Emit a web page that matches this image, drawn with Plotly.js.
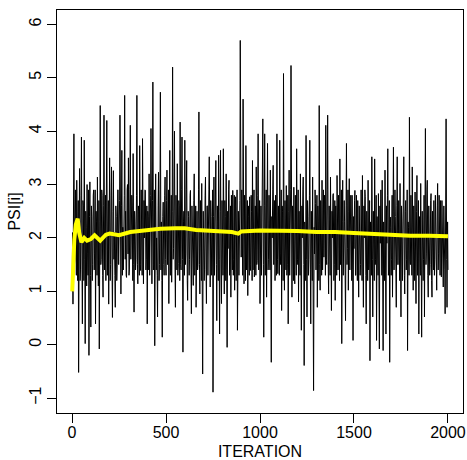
<!DOCTYPE html>
<html>
<head>
<meta charset="utf-8">
<script src="https://cdn.plot.ly/plotly-3.0.1.min.js"></script>
<style>html,body{margin:0;padding:0;background:#fff;}#chart{width:467px;height:460px;}</style>
</head>
<body>
<div id="chart"></div>
<script>
// PSI[i] trace: values at iterations 0,5,10,...,2000
const psiTrace = [
1.0,0.76,3.95,1.6,2.5,3.08,1.2,-0.52,3.3,1.4,
3.89,0.39,2.6,3.83,0.02,2.2,3.0,1.3,-0.2,3.05,
0.33,2.4,1.5,2.9,1.7,0.39,2.3,3.14,1.1,-0.08,
4.48,1.6,2.8,0.89,4.3,1.9,1.2,4.2,2.0,0.76,
3.5,1.5,3.33,0.51,3.26,2.1,0.7,2.4,1.5,2.9,
1.8,4.3,0.95,3.64,2.2,1.83,4.67,2.5,1.26,3.0,
3.5,1.4,4.11,1.9,2.6,3.58,0.61,2.3,1.6,4.67,
1.14,2.5,3.73,1.39,2.2,3.86,1.14,2.0,2.89,1.6,
0.39,2.4,3.2,1.7,4.05,1.14,4.92,1.5,-0.02,3.2,
2.0,0.52,3.23,1.5,4.73,2.3,0.14,2.67,1.3,3.14,
1.3,3.27,1.9,0.77,3.64,2.0,1.17,5.2,1.8,4.0,
0.7,2.3,3.39,1.52,2.6,4.17,1.4,3.89,-0.14,2.5,
3.83,1.7,3.45,0.83,2.4,1.6,2.89,0.58,2.2,1.11,
3.2,1.8,0.7,2.5,1.5,4.36,0.95,2.3,3.02,-0.55,
2.2,1.4,3.14,0.77,2.6,1.7,3.52,1.08,2.4,1.6,
-0.89,3.14,1.9,3.45,0.45,2.3,3.55,0.2,3.64,0.77,
2.1,3.67,0.95,2.4,3.2,-0.05,1.8,3.08,1.4,0.89,
2.3,2.89,1.6,1.02,2.77,1.9,0.27,2.5,1.64,5.7,
1.64,2.3,4.6,1.14,2.2,3.73,1.7,0.92,2.4,2.77,
1.39,2.5,3.45,1.9,1.27,2.6,3.33,1.58,3.95,1.8,
0.77,2.6,1.9,4.23,0.14,3.95,2.0,0.89,3.77,1.6,
2.3,3.27,-0.33,2.0,3.36,1.8,1.2,2.6,3.95,1.33,
2.2,3.83,1.7,0.64,2.5,5.08,1.02,2.1,2.98,1.5,
0.39,3.27,1.8,5.23,0.89,2.3,2.95,1.14,2.4,3.67,
1.6,0.8,2.2,3.2,0.27,2.0,3.14,-0.39,2.1,3.92,
0.52,2.4,1.6,3.83,0.39,2.2,3.14,-0.86,1.7,2.64,
1.9,0.7,2.3,4.48,1.02,2.1,3.08,1.8,1.64,2.7,
4.11,1.5,4.3,0.95,2.2,3.14,0.64,2.0,2.83,1.5,
0.83,2.1,3.17,1.4,2.5,3.48,1.6,0.02,3.08,1.7,
2.3,0.45,3.77,1.8,1.02,3.11,1.9,2.4,2.8,0.08,
1.8,2.89,1.3,2.2,2.7,0.89,2.3,1.5,2.1,3.17,
0.7,2.0,2.77,0.39,2.1,3.08,1.5,-0.3,2.2,3.52,
0.52,2.1,3.48,1.6,0.08,2.0,2.83,-0.08,1.9,2.4,
3.08,-0.11,2.0,3.27,0.2,1.9,3.67,1.4,-0.33,2.39,
1.6,0.89,3.7,1.8,2.4,0.7,3.52,1.5,2.2,3.02,
0.52,2.3,1.7,3.52,0.95,2.7,1.6,-0.11,2.2,4.26,
1.5,2.4,3.33,1.02,2.0,2.86,0.77,3.17,1.8,0.2,
2.1,3.02,0.14,2.2,1.6,0.52,4.05,1.7,3.08,0.89,
2.2,1.5,2.83,0.89,2.1,2.7,1.6,2.3,1.02,3.02,
1.7,2.4,2.7,1.27,2.0,1.08,2.3,0.58,4.23,0.7,
1.4
];
// in-band values in between, at iterations 3,8,13,...,1998
const psiBetween = [
2.1,2.6,1.5,2.9,1.3,1.8,2.7,2.2,1.2,2.8,
1.4,2.7,1.2,1.6,2.5,1.1,1.7,2.9,2.4,1.3,
2.6,1.2,2.8,1.4,2.9,2.5,1.3,1.6,2.7,2.3,
1.5,2.9,1.3,2.6,1.4,2.8,2.6,1.3,2.7,2.4,
1.2,2.8,1.4,2.5,1.6,1.3,2.6,1.2,2.9,1.5,
2.7,1.5,2.6,1.3,1.4,2.8,1.6,1.3,2.9,1.7,
1.3,2.9,1.6,2.8,1.2,1.5,2.5,1.4,2.8,1.5,
2.6,1.3,1.5,2.9,1.3,1.6,2.7,2.9,1.4,2.6,
2.5,1.4,1.3,2.8,1.5,2.7,1.4,2.9,2.2,1.4,
1.3,2.6,1.2,2.9,1.4,1.2,2.4,1.5,2.8,1.6,
2.7,1.5,2.9,2.6,1.3,2.8,2.5,1.6,2.9,1.4,
2.8,1.4,1.3,2.7,1.2,1.5,2.9,1.6,2.3,1.3,
1.5,2.9,1.2,2.5,1.3,2.8,1.4,2.6,1.2,2.7,
1.3,2.6,2.4,1.4,2.9,1.5,2.7,1.2,1.6,2.5,
1.2,2.8,1.4,2.6,1.3,2.9,1.5,2.7,1.3,2.9,
2.4,1.3,2.8,1.5,2.6,1.2,1.6,2.5,1.4,2.7,
1.3,1.5,2.7,1.2,1.4,2.5,2.9,1.3,2.6,2.8,
1.4,1.3,2.8,2.6,1.2,2.9,2.4,1.3,2.7,1.7,
2.9,1.3,1.5,2.8,1.2,1.4,2.7,2.6,1.3,1.5,
2.8,1.2,1.4,2.9,2.6,1.3,1.5,2.8,1.4,2.7,
2.5,1.3,2.8,1.5,2.6,1.3,2.9,2.6,1.4,2.8,
1.4,1.2,2.4,2.9,1.5,2.7,2.8,1.3,1.6,2.6,
1.3,1.5,2.9,2.6,1.2,1.7,2.7,1.4,1.3,2.8,
2.5,1.3,2.9,1.6,2.6,1.2,1.4,2.8,1.3,1.5,
2.9,2.5,1.3,1.4,2.6,2.9,1.5,2.3,1.2,1.6,
2.7,1.3,2.8,1.4,2.5,1.2,1.6,2.2,2.9,1.4,
2.8,2.6,1.2,1.5,2.7,1.3,1.4,2.9,2.8,1.3,
1.6,2.9,1.5,2.6,1.3,1.4,2.5,2.8,1.2,2.7,
2.6,1.3,1.4,2.8,1.2,1.5,2.9,2.3,1.3,2.7,
1.3,2.6,1.5,2.9,2.5,1.4,2.8,1.2,1.4,2.4,
2.7,1.3,2.8,1.2,1.4,2.6,1.3,2.9,1.2,1.5,
2.6,2.9,1.3,2.5,1.2,1.4,2.7,2.3,1.3,1.6,
2.5,1.2,1.5,2.8,2.4,1.3,1.4,2.6,2.9,1.3,
1.4,2.3,1.2,1.5,2.6,2.8,1.3,2.7,2.2,1.3,
2.8,2.5,1.4,2.9,1.3,2.6,1.5,2.7,1.2,1.4,
2.6,1.2,2.8,1.3,2.5,1.4,2.9,2.3,1.3,1.6,
2.8,1.3,1.4,2.6,1.2,1.5,2.5,1.3,2.7,2.4,
1.3,1.4,2.5,1.2,2.8,2.6,1.5,2.9,1.3,2.6,
1.3,2.7,1.2,2.5,1.4,1.3,2.8,1.2,2.6,1.4,
2.8,1.3,1.4,2.7,1.3,2.6,1.4,2.5,1.6,2.3
];
const traceStep = 5;
const betweenOffset = 3;

// running mean (yellow)
const meanIter = [1,5,12,20,30,38,50,65,80,100,120,150,180,200,250,310,400,470,550,600,660,750,850,885,900,1000,1100,1200,1300,1400,1500,1600,1700,1800,1900,2000];
const meanVal  = [1.0,1.5,1.96,2.25,2.36,2.1,1.92,2.0,1.95,1.98,2.05,1.95,2.06,2.08,2.05,2.11,2.15,2.17,2.18,2.18,2.15,2.13,2.11,2.08,2.12,2.14,2.14,2.13,2.11,2.11,2.09,2.07,2.05,2.04,2.04,2.03];

const xTicks = [0,500,1000,1500,2000];
const yTicks = [-1,0,1,2,3,4,5,6];

// merge the two read series in iteration order
const tx = [], ty = [];
psiTrace.forEach((v, i) => {
  tx.push(i === 0 ? 1 : i * traceStep); ty.push(v);
  if (i < psiBetween.length) { tx.push(i * traceStep + betweenOffset); ty.push(psiBetween[i]); }
});

const font = {family: 'Liberation Sans, Arial, Helvetica, sans-serif', size: 16, color: '#000'};

Plotly.newPlot('chart', [
  {x: tx, y: ty, type: 'scatter', mode: 'lines',
   line: {color: '#000', width: 1}, hoverinfo: 'skip'},
  {x: meanIter, y: meanVal, type: 'scatter', mode: 'lines',
   line: {color: '#ffff00', width: 4}, hoverinfo: 'skip'}
], {
  width: 467, height: 460,
  margin: {l: 57, r: 4, t: 10, b: 47},
  paper_bgcolor: '#fff', plot_bgcolor: '#fff',
  showlegend: false,
  font: font,
  xaxis: {
    range: [-80, 2080], tickvals: xTicks, ticktext: xTicks.map(String),
    ticks: 'outside', ticklen: 9, tickcolor: '#000', tickwidth: 1,
    ticklabelstandoff: -4,
    showline: true, mirror: true, linecolor: '#000', linewidth: 1,
    showgrid: false, zeroline: false, tickfont: font,
    title: {text: 'ITERATION', font: font, standoff: 7}, automargin: false
  },
  yaxis: {
    range: [-1.28, 6.27], tickvals: yTicks, ticktext: yTicks.map(v => v < 0 ? '\u2212' + Math.abs(v) : String(v)),
    ticks: 'outside', ticklen: 9, tickcolor: '#000', tickwidth: 1, tickangle: -90,
    showline: true, mirror: true, linecolor: '#000', linewidth: 1,
    showgrid: false, zeroline: false, tickfont: font,
    title: {text: 'PSI[i]', font: font, standoff: 1}, automargin: false
  }
}, {displayModeBar: false, staticPlot: true});
</script>
</body>
</html>
